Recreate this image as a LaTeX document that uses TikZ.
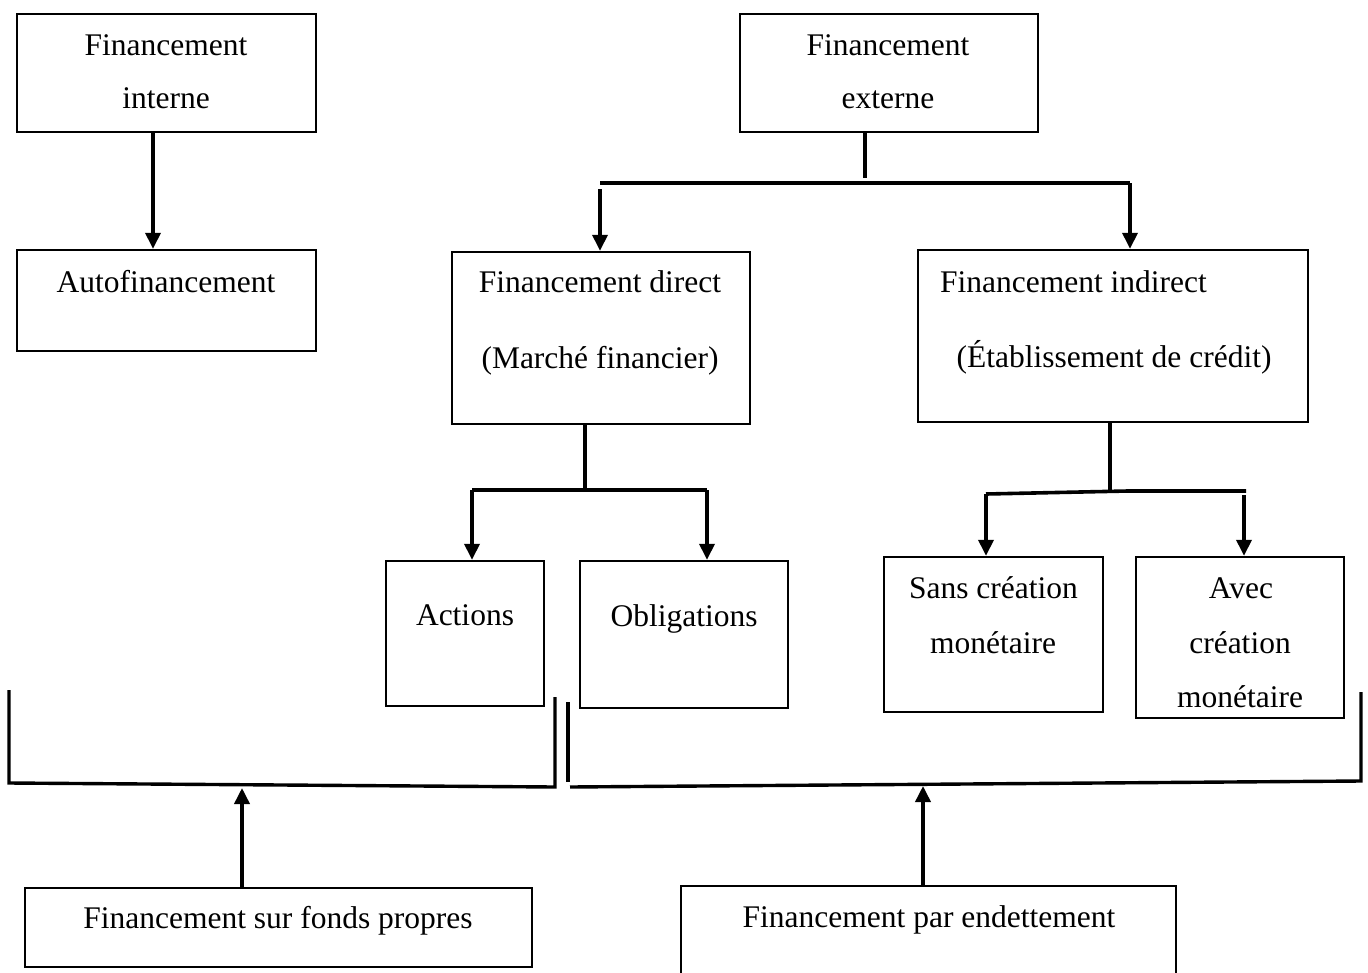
\documentclass[tikz,border=0pt]{standalone}
\usepackage{fontspec}
\setmainfont{Liberation Serif}
\usetikzlibrary{arrows.meta}
\begin{document}
\begin{tikzpicture}[x=1pt,y=-1pt,
  box/.style={draw, line width=2.4pt, rectangle, inner sep=0pt},
  txt/.style={anchor=base, inner sep=0pt, font=\fontsize{31.5}{38}\selectfont},
  link/.style={line width=3.6pt},
  arr/.style={line width=3.6pt, -{Triangle[width=15pt,length=16pt]}},
  brace/.style={line width=3.4pt, line join=miter}]
\useasboundingbox (0,0) rectangle (1368,972);
\clip (0,0) rectangle (1368,972);

% boxes
\node[box, minimum width=299pt, minimum height=118pt] (interne) at (166.5,73) {};
\node[box, minimum width=299pt, minimum height=101pt] (autof) at (166.5,300.5) {};
\node[box, minimum width=298pt, minimum height=118pt] (externe) at (889,73) {};
\node[box, minimum width=298pt, minimum height=172pt] (direct) at (601,338) {};
\node[box, minimum width=390pt, minimum height=172pt] (indirect) at (1113,336) {};
\node[box, minimum width=158pt, minimum height=145pt] (actions) at (465,633.5) {};
\node[box, minimum width=208pt, minimum height=147pt] (oblig) at (684,634.5) {};
\node[box, minimum width=219pt, minimum height=155pt] (sans) at (993.5,634.5) {};
\node[box, minimum width=208pt, minimum height=161pt] (avec) at (1240,637.5) {};
\node[box, minimum width=507pt, minimum height=79pt] (propres) at (278.5,927.5) {};
\node[box, minimum width=495pt, minimum height=114pt] (dette) at (928.5,943) {};

% labels
\node[txt] (t1) at (166,55) {Financement};
\node[txt] (t2) at (166,108) {interne};
\node[txt] (t3) at (166,292) {Autofinancement};
\node[txt] (t4) at (888,55) {Financement};
\node[txt] (t5) at (888,108) {externe};
\node[txt] (t6) at (600,292) {Financement direct};
\node[txt] (t7) at (600,368) {(Marché financier)};
\node[txt] (t8) at (1073.5,292) {Financement indirect};
\node[txt] (t9) at (1114,367) {(Établissement de crédit)};
\node[txt] (t10) at (465,625) {Actions};
\node[txt] (t11) at (684,626) {Obligations};
\node[txt] (t12) at (993.5,598) {Sans création};
\node[txt] (t13) at (993,653) {monétaire};
\node[txt] (t14) at (1241,598) {Avec};
\node[txt] (t15) at (1240,653) {création};
\node[txt] (t16) at (1240,707) {monétaire};
\node[txt] (t17) at (278,928) {Financement sur fonds propres};
\node[txt] (t18) at (929,927) {Financement par endettement};

% internal financing
\draw[arr] ([xshift=-13.5pt]interne.south) -- ([xshift=-13.5pt]autof.north);

% external financing split
\coordinate (ej) at (865,178);
\coordinate (eL) at (600,183);
\coordinate (eR) at (1130,183);
\draw[link] (externe.south -| ej) -- (ej);
\draw[link] (eL) -- (eR);
\draw[arr] (600,189) -- (direct.north -| eL);
\draw[arr] (eR) -- (indirect.north -| eR);

% direct financing split
\coordinate (dj) at (585,490);
\coordinate (dL) at (472,490);
\coordinate (dR) at (707,490);
\draw[link] (direct.south -| dj) -- (dj);
\draw[link] (dL) -- (dR);
\draw[arr] (dL) -- (actions.north -| dL);
\draw[arr] (dR) -- (oblig.north -| dR);

% indirect financing split
\coordinate (ij) at (1110,491);
\coordinate (iL) at (986,494);
\coordinate (iR) at (1245,491);
\draw[link] (indirect.south -| ij) -- (ij);
\draw[link] (986,494) -- (1128,491) -- (1246,491);
\draw[arr] (iL) -- (sans.north -| iL);
\draw[arr] (1244,495) -- (avec.north -| 1244,0);

% equity bracket
\coordinate (b1) at (9,690);
\coordinate (b2) at (9,783);
\coordinate (b3) at (555,787);
\coordinate (b4) at (555,697);
\draw[brace] (b1) -- (b2) -- (b3) -- (b4);
\draw[arr] (propres.north -| 242,0) -- (242,788);

% debt bracket
\coordinate (c1) at (568,702);
\coordinate (c2) at (568,782);
\coordinate (c3) at (570,787);
\coordinate (c4) at (1361,781);
\coordinate (c5) at (1361,692);
\draw[brace] (c1) -- (c2);
\draw[brace] (c3) -- (c4) -- (c5);
\draw[arr] (dette.north -| 923,0) -- (923,786);
\end{tikzpicture}
\end{document}
